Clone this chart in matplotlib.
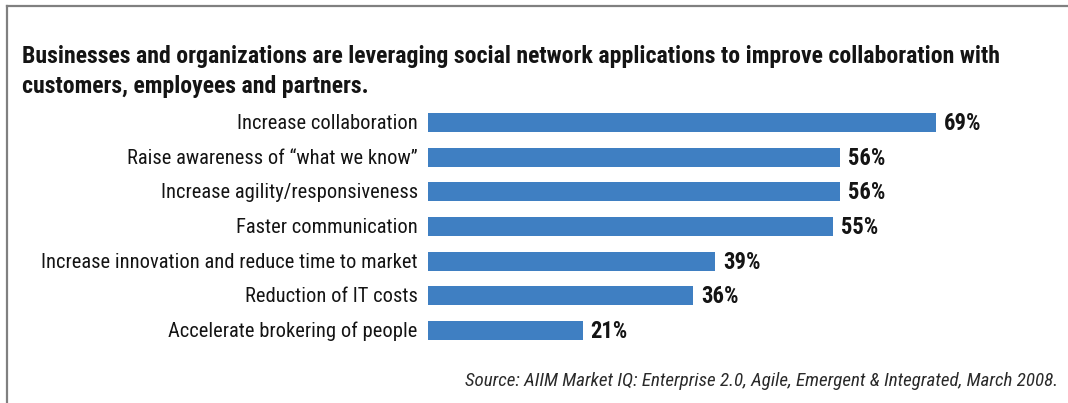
import matplotlib
matplotlib.use('Agg')
import matplotlib.pyplot as plt
from matplotlib.lines import Line2D

# chart data
reasons = ['Increase collaboration',
           'Raise awareness of \u201cwhat we know\u201d',
           'Increase agility/responsiveness',
           'Faster communication',
           'Increase innovation and reduce time to market',
           'Reduction of IT costs',
           'Accelerate brokering of people']
percent = [69, 56, 56, 55, 39, 36, 21]

title_lines = ['Businesses and organizations are leveraging social network applications to improve collaboration with',
               'customers, employees and partners.']
source = 'Source: AIIM Market IQ: Enterprise 2.0, Agile, Emergent & Integrated, March 2008.'

W, H = 1068, 403
plt.rcParams['font.family'] = ['Roboto Condensed', 'DejaVu Sans']

fig = plt.figure(figsize=(W / 100, H / 100), dpi=100)
fig.patch.set_facecolor('white')

# axes placed in pixel units: bars start at x=428, 7.36 px per percent
ax = fig.add_axes([428 / W, (H - 348) / H, 736 / W, 243 / H])
ax.barh(range(len(reasons)), percent, height=0.55, color='#3f7fc2')
ax.set_xlim(0, 100)
ax.set_ylim(len(reasons) - 0.5, -0.5)
ax.axis('off')

for i, (lab, v) in enumerate(zip(reasons, percent)):
    ax.text(-1.4, i + 0.03, lab, ha='right', va='center', fontsize=14.8, color='#141414')
    ax.text(v + 1.1, i + 0.03, f'{v}%', ha='left', va='center', fontsize=16.3,
            fontweight='bold', color='#141414')

for k, line in enumerate(title_lines):
    fig.text(22 / W, 1 - (57 + 29 * k) / H, line, ha='left', va='center', fontsize=17.1,
             fontweight='bold', color='#141414')
fig.text(1058 / W, 1 - 381 / H, source, ha='right', va='center', fontsize=13.7,
         style='italic', color='#2a2a2a')

# frame: top and left grey rules
fig.add_artist(Line2D([7 / W, 1], [1 - 6 / H, 1 - 6 / H], color='#808080', lw=1.6,
                      transform=fig.transFigure))
fig.add_artist(Line2D([7 / W, 7 / W], [0, 1 - 6 / H], color='#808080', lw=1.6,
                      transform=fig.transFigure))

fig.savefig('out.png', dpi=100)
